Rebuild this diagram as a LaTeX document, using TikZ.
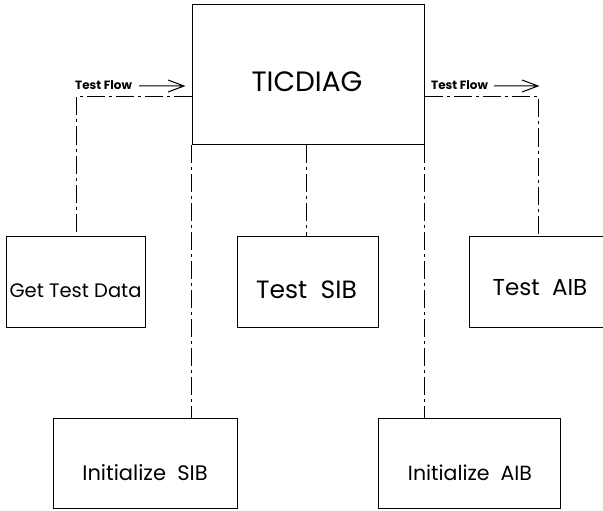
\documentclass[tikz,border=0pt]{standalone}
\usepackage{fontspec}
\setmainfont{Poppins}
\tikzset{
  blk/.style={draw, line width=1pt, inner sep=0pt},
  txt/.style={anchor=base, inner sep=0pt},
  dd/.style={line width=1pt, dash pattern=on 18pt off 4pt on 3pt off 4pt},
  flowlbl/.style={font=\fontsize{12}{13}\selectfont\bfseries, inner sep=0pt, anchor=base west},
  flowarr/.style={line width=1pt, line join=miter}
}
\begin{document}
\begin{tikzpicture}[x=1pt,y=-1pt]
\useasboundingbox (0,0) rectangle (603,511);
% boxes
\node[blk, minimum width=232pt, minimum height=139pt] (tic) at (308,74.5) {};
\node[blk, minimum width=139pt, minimum height=91pt] (gtd) at (75.5,281.5) {};
\node[blk, minimum width=141pt, minimum height=91pt] (tsib) at (307.5,281.5) {};
\node[blk, minimum width=134pt, minimum height=91pt] (taib) at (536,281.5) {};
\node[blk, minimum width=184pt, minimum height=90pt] (isib) at (145,463) {};
\node[blk, minimum width=182pt, minimum height=90pt] (iaib) at (469,463) {};
% texts
\node[txt, font=\fontsize{28}{30}\selectfont] (tict) at (307,92) {TICDIAG};
\node[txt, font=\fontsize{19.5}{21}\selectfont] (gtdt) at (75.5,297) {Get Test Data};
\node[txt, font=\fontsize{25}{27}\selectfont] (tsibt) at (306.5,298) {Test\ \ SIB};
\node[txt, font=\fontsize{23}{25}\selectfont] (taibt) at (540,295) {Test\ \ AIB};
\node[txt, font=\fontsize{21}{23}\selectfont] (isibt) at (145,480) {Initialize\ \ SIB};
\node[txt, font=\fontsize{20.5}{22}\selectfont] (iaibt) at (470,480) {Initialize\ \ AIB};
% connectors
\draw[dd] (tic.west |- 0,97) -- (76,97) -- (gtd.north -| 76,0);
\draw[dd] (tic.east |- 0,97) -- (538,97) -- (taib.north -| 538,0);
\draw[dd] (tic.south -| 306,0) -- (tsib.north -| 306,0);
\draw[dd] (tic.south west) -- (isib.north -| tic.south west);
\draw[dd] (tic.south east) -- (iaib.north -| tic.south east);
% test flow labels
\node[flowlbl] (tfl) at (75,89) {Test Flow};
\node[flowlbl] (tfr) at (431,89) {Test Flow};
\coordinate (al) at (184,86);
\coordinate (ar) at (538,86);
\coordinate (sl) at (139,86);
\coordinate (sr) at (494,86);
\draw[flowarr] (sl) -- (al) ++(-16,-6) -- (al) -- ++(-16,6);
\draw[flowarr] (sr) -- (ar) ++(-16,-6) -- (ar) -- ++(-16,6);
\end{tikzpicture}
\end{document}
